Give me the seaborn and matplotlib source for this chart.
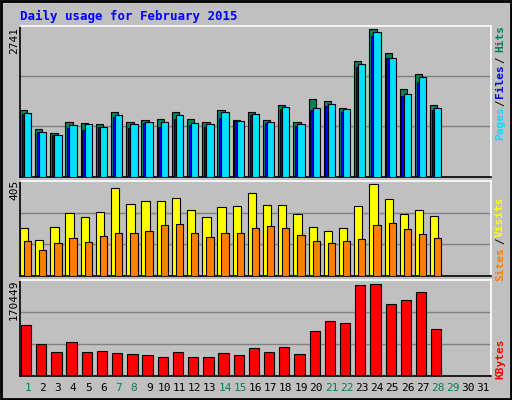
import matplotlib
matplotlib.use("Agg")
import matplotlib.pyplot as plt
import seaborn as sns
import numpy as np
from matplotlib.patches import Rectangle

days = list(range(1, 32))
hits = [1234, 881, 806, 1011, 992, 974, 1197, 1011, 1048, 1067, 1197, 1067, 1011, 1234,
        1048, 1197, 1048, 1327, 1011, 1439, 1402, 1271, 2146, 2741, 2295, 1625, 1904, 1327]
files = [1172, 825, 769, 905, 868, 918, 1104, 899, 1005, 918, 1067, 955, 918, 1085,
         1029, 1153, 1005, 1259, 943, 1234, 1308, 1197, 2034, 2617, 2201, 1501, 1755, 1234]
pages = [1178, 825, 769, 955, 974, 918, 1141, 974, 1011, 1011, 1141, 992, 974, 1197,
         1029, 1160, 1011, 1290, 974, 1271, 1346, 1253, 2090, 2685, 2201, 1532, 1848, 1271]
visits = [211, 158, 216, 277, 260, 282, 387, 317, 330, 330, 343, 291, 260, 304,
          308, 365, 313, 313, 273, 216, 198, 211, 308, 405, 339, 273, 291, 264]
sites = [154, 114, 145, 167, 150, 176, 189, 189, 198, 225, 229, 189, 172, 189,
         189, 211, 220, 211, 180, 154, 145, 154, 163, 225, 233, 207, 185, 167]
kbytes = [93935, 58474, 43545, 62208, 43545, 45410, 41677, 39812, 37946, 34214, 43545, 34214,
          34214, 41677, 37946, 51009, 43545, 52876, 39812, 82736, 101398, 97665, 168583,
          170449, 133125, 140589, 155519, 86468]
weekend = [1, 7, 8, 14, 15, 21, 22, 28, 29]

sns.set_style("white")
plt.rcParams['font.family'] = ['DejaVu Sans Mono', 'DejaVu Sans']

BG = "#c0c0c0"
fig = plt.figure(figsize=(5.12, 4.0), dpi=100)
fig.patch.set_facecolor(BG)
fig.patches.append(Rectangle((0.002, 0.002), 0.996, 0.996, transform=fig.transFigure,
                             fill=False, edgecolor="black", linewidth=2))

W, H = 512, 400
def axrect(top, bottom):
    return [20 / W, 1 - bottom / H, 471 / W, (bottom - top) / H]

ax1 = fig.add_axes(axrect(25.7, 176.7))
ax2 = fig.add_axes(axrect(180.7, 276.3))
ax3 = fig.add_axes(axrect(280.3, 375.7))

px = 1 / 15.2  # one pixel in data units
x = np.arange(1, len(hits) + 1)

def style(ax, ymax):
    ax.set_facecolor(BG)
    ax.set_xlim(0.5, 31.5)
    ax.set_ylim(0, ymax)
    for v in (ymax / 3, 2 * ymax / 3):
        ax.axhline(v, color="#808080", lw=1, zorder=0)
    ax.set_xticks([]); ax.set_yticks([])
    for s in ("left", "bottom"):
        ax.spines[s].set_color("black")
    for s in ("top", "right"):
        ax.spines[s].set_color("white")
    for s in ax.spines.values():
        s.set_linewidth(1.2)

style(ax1, 2741 * 453 / 442)
ax1.bar(x - 7.7 * px, hits, width=7.3 * px, align="edge", color="#00805c", edgecolor="black", lw=0.8, zorder=2)
ax1.bar(x - 6 * px, files, width=4 * px, align="edge", color="#0000ff", edgecolor="black", lw=0.6, zorder=3)
ax1.bar(x - 3.7 * px, pages, width=7.3 * px, align="edge", color="#00e0ff", edgecolor="black", lw=0.8, zorder=4)

style(ax2, 405 * 287 / 276)
ax2.bar(x - 7.7 * px, visits, width=8.3 * px, align="edge", color="#ffff00", edgecolor="black", lw=0.8, zorder=2)
ax2.bar(x - 3.7 * px, sites, width=7.3 * px, align="edge", color="#ff8000", edgecolor="black", lw=0.8, zorder=3)

style(ax3, 170449 * 286 / 274)
ax3.bar(x - 6.7 * px, kbytes, width=10.3 * px, align="edge", color="#ff0000", edgecolor="black", lw=0.8, zorder=2)

for d in days:
    ax3.text(d, -0.13, str(d), transform=ax3.get_xaxis_transform(), ha="center", va="center",
             fontsize=8, color="#00805c" if d in weekend else "black")

fig.text(20 / W, 1 - 16 / H, "Daily usage for February 2015", color="#0000ff",
         fontsize=9, fontweight="bold", va="center", ha="left")

def ftext(xp, yp, s, color, **kw):
    fig.text(xp / W, 1 - yp / H, s, color=color, rotation=90, ha="center", va="center",
             fontsize=8, **kw)

ftext(14, 40, "2741", "black")
ftext(14, 190, "405", "black")
ftext(14, 300, "170449", "black")

ftext(500, 123, "Pages", "#00e0ff", fontweight="bold")
ftext(500, 103, "/", "black")
ftext(500, 81, "Files", "#0000ff", fontweight="bold")
ftext(500, 60, "/", "black")
ftext(500, 39, "Hits", "#00805c", fontweight="bold")
ftext(500, 264, "Sites", "#ff8000", fontweight="bold")
ftext(500, 241, "/", "black")
ftext(500, 217, "Visits", "#ffff00", fontweight="bold")
ftext(500, 359, "KBytes", "#ff0000", fontweight="bold")

fig.savefig("out.png", dpi=100, facecolor=BG)
